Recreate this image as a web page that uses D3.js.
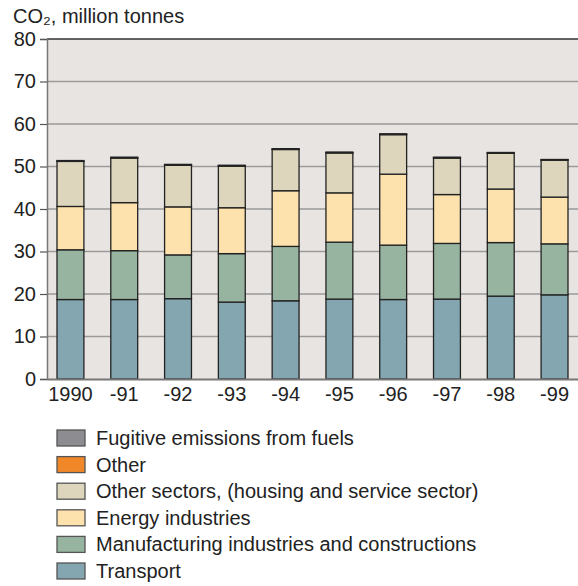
<!DOCTYPE html>
<html>
<head>
<meta charset="utf-8">
<script src="https://cdn.jsdelivr.net/npm/d3@7"></script>
<style>
  html, body { margin: 0; padding: 0; background: #ffffff; }
  svg { display: block; font-family: "Liberation Sans", Arial, Helvetica, sans-serif; }
</style>
</head>
<body>
<svg id="chart" width="578" height="586"></svg>
<script>
const years = ["1990", "-91", "-92", "-93", "-94", "-95", "-96", "-97", "-98", "-99"];
const transport     = [18.7, 18.7, 18.9, 18.1, 18.4, 18.8, 18.7, 18.8, 19.5, 19.8];
const manufacturing = [11.7, 11.5, 10.3, 11.4, 12.8, 13.4, 12.8, 13.1, 12.6, 12.0];
const energy        = [10.2, 11.3, 11.3, 10.8, 13.1, 11.6, 16.7, 11.5, 12.6, 11.0];
const otherSectors  = [10.6, 10.5,  9.8,  9.8,  9.7,  9.4,  9.3,  8.6,  8.4,  8.7];
const other         = [0.05, 0.05, 0.05, 0.05, 0.05, 0.05, 0.05, 0.05, 0.05, 0.05];
const fugitive      = [0.15, 0.15, 0.15, 0.15, 0.15, 0.15, 0.15, 0.15, 0.15, 0.1];
const yTicks = [0, 10, 20, 30, 40, 50, 60, 70, 80];
const seriesNames = ["Transport", "Manufacturing industries and constructions", "Energy industries",
  "Other sectors, (housing and service sector)", "Other", "Fugitive emissions from fuels"];
const seriesColors = ["#84a6b0", "#97b4a0", "#fee2ad", "#ddd5bc", "#f0882a", "#8d8d91"];
const yTitle = "CO\u2082, million tonnes";

const seriesValues = [transport, manufacturing, energy, otherSectors, other, fugitive];
const keys = seriesNames;
const table = years.map((yr, i) => {
  const row = { year: yr };
  keys.forEach((k, j) => row[k] = seriesValues[j][i]);
  return row;
});

const svg = d3.select("#chart");
const mLeft = 47, mRight = 578, mTop = 39, mBottom = 379;
const FS = 20;

const x = d3.scaleBand().domain(years).range([mLeft, mRight]).paddingInner(0.5).paddingOuter(0.186);
const y = d3.scaleLinear().domain([0, 80]).range([mBottom, mTop]);

// background
svg.append("rect").attr("x", mLeft).attr("y", mTop).attr("width", mRight - mLeft).attr("height", mBottom - mTop)
  .attr("fill", "#e8e4e1");

// gridlines
svg.append("g").selectAll("line").data(yTicks.filter(t => t > 0 && t < 80)).join("line")
  .attr("x1", mLeft).attr("x2", mRight).attr("y1", d => y(d)).attr("y2", d => y(d))
  .attr("stroke", "#9a9a9a").attr("stroke-width", 1.4);

// top border
svg.append("line").attr("x1", mLeft).attr("x2", mRight).attr("y1", y(80)).attr("y2", y(80))
  .attr("stroke", "#333").attr("stroke-width", 1.5);

// y axis
const yAxis = d3.axisLeft(y).tickValues(yTicks).tickSize(7).tickPadding(4).tickFormat(d3.format("d"));
const gy = svg.append("g").attr("transform", `translate(${mLeft},0)`).call(yAxis);
gy.select(".domain").attr("stroke", "#777").attr("stroke-width", 1.5);
gy.selectAll(".tick line").attr("stroke", "#555").attr("stroke-width", 1.2);
gy.selectAll(".tick text").attr("font-size", FS).attr("fill", "#222")
  .attr("font-family", "Liberation Sans, Arial, sans-serif");

// stacked bars
const stack = d3.stack().keys(keys);
const stacked = stack(table);
svg.append("g").selectAll("g").data(stacked).join("g")
  .attr("fill", (d, i) => seriesColors[i])
  .selectAll("rect").data(d => d).join("rect")
  .attr("x", d => x(d.data.year))
  .attr("width", x.bandwidth())
  .attr("y", d => y(d[1]))
  .attr("height", d => y(d[0]) - y(d[1]))
  .attr("stroke", "#222").attr("stroke-width", 1.3);

// x axis
const xAxis = d3.axisBottom(x).tickSize(0).tickPadding(8);
const gx = svg.append("g").attr("transform", `translate(0,${mBottom})`).call(xAxis);
gx.select(".domain").attr("stroke", "#777").attr("stroke-width", 2);
gx.selectAll(".tick text").attr("font-size", FS).attr("fill", "#222")
  .attr("font-family", "Liberation Sans, Arial, sans-serif");

// y title
svg.append("text").attr("x", 13).attr("y", 23).attr("font-size", FS).attr("fill", "#222").text(yTitle);

// legend
const legendOrder = d3.range(seriesNames.length).reverse();
const ly = d3.scalePoint().domain(legendOrder).range([430, 563]);
const lg = svg.append("g").selectAll("g").data(legendOrder).join("g")
  .attr("transform", d => `translate(57,${ly(d)})`);
lg.append("rect").attr("width", 28).attr("height", 16)
  .attr("fill", d => seriesColors[d]).attr("stroke", "#555").attr("stroke-width", 1.3);
lg.append("text").attr("x", 39).attr("y", 15).attr("font-size", FS).attr("fill", "#222")
  .text(d => seriesNames[d]);
</script>
</body>
</html>
